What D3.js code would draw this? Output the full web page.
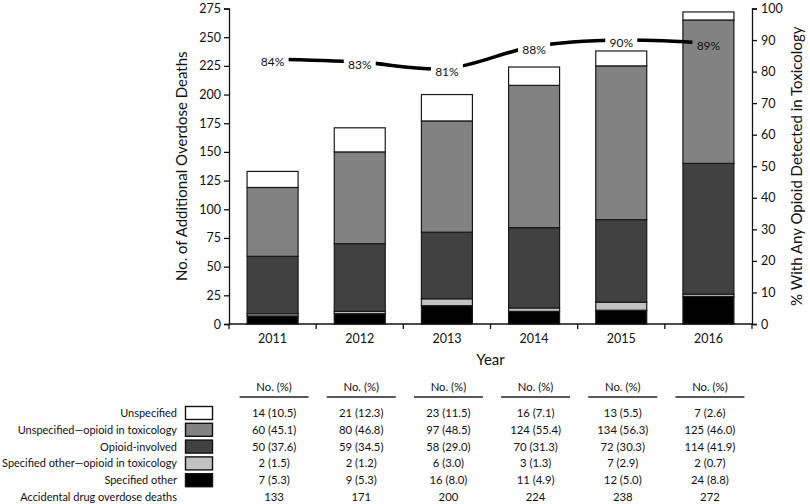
<!DOCTYPE html>
<html>
<head>
<meta charset="utf-8">
<script src="https://cdn.jsdelivr.net/npm/d3@7"></script>
<style>
  body { margin: 0; background: #fff; }
  text { font-family: "Lato", "Open Sans", sans-serif; fill: #111; }
</style>
</head>
<body>
<div id="chart"></div>
<script>
const years = ["2011", "2012", "2013", "2014", "2015", "2016"];
// stack order bottom -> top
const specifiedOther = [7, 9, 16, 11, 12, 24];
const specifiedOpioidTox = [2, 2, 6, 3, 7, 2];
const opioidInvolved = [50, 59, 58, 70, 72, 114];
const unspecifiedOpioidTox = [60, 80, 97, 124, 134, 125];
const unspecified = [14, 21, 23, 16, 13, 7];
const totals = [133, 171, 200, 224, 238, 272];
const pctAnyOpioid = [84, 83, 81, 88, 90, 89];

const specifiedOtherPct = ["5.3", "5.3", "8.0", "4.9", "5.0", "8.8"];
const specifiedOpioidToxPct = ["1.5", "1.2", "3.0", "1.3", "2.9", "0.7"];
const opioidInvolvedPct = ["37.6", "34.5", "29.0", "31.3", "30.3", "41.9"];
const unspecifiedOpioidToxPct = ["45.1", "46.8", "48.5", "55.4", "56.3", "46.0"];
const unspecifiedPct = ["10.5", "12.3", "11.5", "7.1", "5.5", "2.6"];

const leftTicks = d3.range(0, 276, 25);
const rightTicks = d3.range(0, 101, 10);

const series = [
  { key: "specOther", label: "Specified other", values: specifiedOther, pct: specifiedOtherPct, color: "#000000" },
  { key: "specOpTox", label: "Specified other\u2014opioid in toxicology", values: specifiedOpioidTox, pct: specifiedOpioidToxPct, color: "#c2c2c2" },
  { key: "opioid", label: "Opioid-involved", values: opioidInvolved, pct: opioidInvolvedPct, color: "#414141" },
  { key: "unspOpTox", label: "Unspecified\u2014opioid in toxicology", values: unspecifiedOpioidTox, pct: unspecifiedOpioidToxPct, color: "#828282" },
  { key: "unsp", label: "Unspecified", values: unspecified, pct: unspecifiedPct, color: "#ffffff" }
];

const width = 810, height = 504;
const plotLeft = 229, plotRight = 752, plotTop = 8.5, plotBottom = 324;

const svg = d3.select("#chart").append("svg")
  .attr("width", width).attr("height", height)
  .attr("viewBox", [0, 0, width, height]);

const x = d3.scaleBand().domain(years).range([plotLeft, plotRight]).paddingInner(0.415).paddingOuter(0.2075);
const y = d3.scaleLinear().domain([0, 275]).range([plotBottom, plotTop]);
const y2 = d3.scaleLinear().domain([0, 100]).range([plotBottom, plotTop]);
const cx = d => x(d) + x.bandwidth() / 2;

// stacked data
const rows = years.map((yr, i) => {
  const r = { year: yr };
  series.forEach(s => r[s.key] = s.values[i]);
  return r;
});
const stack = d3.stack().keys(series.map(s => s.key));
const stacked = stack(rows);

svg.append("g").selectAll("g")
  .data(stacked)
  .join("g")
  .attr("fill", (d, i) => series[i].color)
  .selectAll("rect")
  .data(d => d)
  .join("rect")
  .attr("x", d => x(d.data.year))
  .attr("y", d => y(d[1]))
  .attr("width", x.bandwidth())
  .attr("height", d => y(d[0]) - y(d[1]))
  .attr("stroke", "#1a1a1a")
  .attr("stroke-width", 1.2);

// axes
const axisStyle = g => {
  g.selectAll("path, line").attr("stroke", "#111").attr("stroke-width", 1.3);
  g.selectAll("text").style("font-size", "12.5px").attr("fill", "#111");
};

svg.append("g")
  .attr("transform", `translate(${plotLeft},0)`)
  .call(d3.axisLeft(y).tickValues(leftTicks).tickSize(5).tickPadding(3))
  .call(axisStyle);

svg.append("g")
  .attr("transform", `translate(${plotRight},0)`)
  .call(d3.axisRight(y2).tickValues(rightTicks).tickSize(5).tickPadding(4))
  .call(axisStyle);

// bottom axis: ticks at band boundaries
const bx = d3.scaleLinear().domain([0, years.length]).range([plotLeft, plotRight]);
const xa = svg.append("g").attr("transform", `translate(0,${plotBottom})`);
xa.append("line").attr("x1", plotLeft).attr("x2", plotRight).attr("stroke", "#111").attr("stroke-width", 1.3);
xa.selectAll("line.tick")
  .data(d3.range(0, years.length + 1))
  .join("line")
  .attr("class", "tick")
  .attr("x1", d => bx(d)).attr("x2", d => bx(d))
  .attr("y1", 0).attr("y2", 5)
  .attr("stroke", "#111").attr("stroke-width", 1.3);
xa.selectAll("text")
  .data(years)
  .join("text")
  .attr("x", cx)
  .attr("y", 19)
  .attr("text-anchor", "middle")
  .style("font-size", "12.5px")
  .text(d => d);

// axis titles
svg.append("text")
  .attr("transform", `translate(187,${(plotTop + plotBottom) / 2}) rotate(-90)`)
  .attr("text-anchor", "middle")
  .style("font-size", "15px")
  .text("No. of Additional Overdose Deaths");

svg.append("text")
  .attr("transform", `translate(802,${(plotTop + plotBottom) / 2}) rotate(-90)`)
  .attr("text-anchor", "middle")
  .style("font-size", "15px")
  .text("% With Any Opioid Detected in Toxicology");

svg.append("text")
  .attr("x", (plotLeft + plotRight) / 2)
  .attr("y", 365)
  .attr("text-anchor", "middle")
  .style("font-size", "15px")
  .text("Year");

// percent line, broken around its labels with a mask
const labelDy = 3;
const mask = svg.append("defs").append("mask").attr("id", "lineGaps")
  .attr("maskUnits", "userSpaceOnUse")
  .attr("x", 0).attr("y", 0).attr("width", width).attr("height", height);
mask.append("rect").attr("width", width).attr("height", height).attr("fill", "#fff");
mask.selectAll("rect.gap")
  .data(pctAnyOpioid)
  .join("rect")
  .attr("class", "gap")
  .attr("x", (d, i) => cx(years[i]) - 16)
  .attr("y", d => y2(d) + labelDy - 10)
  .attr("width", 32).attr("height", 20)
  .attr("fill", "#000");

const line = d3.line()
  .x((d, i) => cx(years[i]))
  .y(d => y2(d))
  .curve(d3.curveCatmullRom.alpha(0.5));

svg.append("path")
  .datum(pctAnyOpioid)
  .attr("d", line)
  .attr("fill", "none")
  .attr("stroke", "#000")
  .attr("stroke-width", 3.6)
  .attr("mask", "url(#lineGaps)");

svg.append("g").selectAll("text")
  .data(pctAnyOpioid)
  .join("text")
  .attr("x", (d, i) => cx(years[i]))
  .attr("y", d => y2(d) + labelDy)
  .attr("text-anchor", "middle")
  .attr("dy", "0.35em")
  .style("font-size", "12px")
  .text(d => d + "%");

// table
const colX = d => cx(d) + 1.5;
const tblFont = "11.3px";
const tbl = svg.append("g");
tbl.selectAll("text.hdr")
  .data(years)
  .join("text")
  .attr("class", "hdr")
  .attr("x", colX)
  .attr("y", 391)
  .attr("text-anchor", "middle")
  .style("font-size", tblFont)
  .text("No. (%)");
tbl.selectAll("line.ul")
  .data(years)
  .join("line")
  .attr("class", "ul")
  .attr("x1", d => colX(d) - 34.5).attr("x2", d => colX(d) + 34.5)
  .attr("y1", 397).attr("y2", 397)
  .attr("stroke", "#222").attr("stroke-width", 1.4);

const tableSeries = series.slice().reverse();
const rowC = i => 413 + i * 16.8;
const rowLabels = [];

tableSeries.forEach((s, i) => {
  rowLabels.push(tbl.append("text")
    .attr("class", "rowlab")
    .attr("x", 177).attr("y", rowC(i) + 4)
    .attr("text-anchor", "end")
    .style("font-size", tblFont)
    .text(s.label));
  tbl.append("rect")
    .attr("x", 185.5).attr("y", rowC(i) - 6.5)
    .attr("width", 27).attr("height", 13)
    .attr("fill", s.color)
    .attr("stroke", "#111").attr("stroke-width", 1.4);
  tbl.selectAll(null)
    .data(years)
    .join("text")
    .attr("x", colX)
    .attr("y", rowC(i) + 4)
    .attr("text-anchor", "middle")
    .style("font-size", tblFont)
    .text((d, j) => `${s.values[j]} (${s.pct[j]})`);
});

const totC = rowC(tableSeries.length);
tbl.append("text")
  .attr("class", "rowlab")
  .attr("x", 177).attr("y", totC + 4)
  .attr("text-anchor", "end")
  .style("font-size", tblFont)
  .text("Accidental drug overdose deaths");
tbl.selectAll(null)
  .data(years)
  .join("text")
  .attr("x", colX)
  .attr("y", totC + 4)
  .attr("text-anchor", "middle")
  .style("font-size", tblFont)
  .text((d, j) => totals[j]);

// row labels must fit between the left edge and the swatches
const labs = tbl.selectAll("text.rowlab");
const widest = d3.max(labs.nodes(), n => n.getComputedTextLength());
if (widest > 175) {
  const fs = parseFloat(tblFont) * 175 / widest;
  labs.style("font-size", fs + "px");
}
</script>
</body>
</html>
